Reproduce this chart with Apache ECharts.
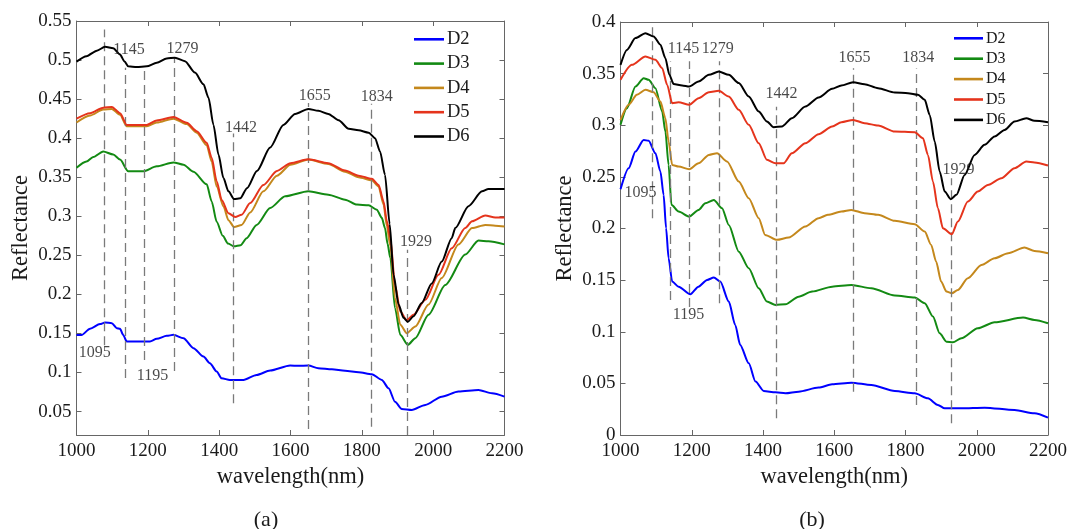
<!DOCTYPE html>
<html>
<head>
<meta charset="utf-8">
<script src="https://cdn.jsdelivr.net/npm/echarts@6/dist/echarts.min.js"></script>
<style>
html,body{margin:0;padding:0;background:#fff;}
#chart{width:1067px;height:529px;}
</style>
</head>
<body>
<div id="chart"></div>
<script>
// ---------- data ----------
const seriesNames = ['D2', 'D3', 'D4', 'D5', 'D6'];
const seriesColors = ['#0000ff', '#138a13', '#c4881c', '#e5341c', '#000000'];
const xTicks = [1000, 1200, 1400, 1600, 1800, 2000, 2200];
const yTicksA = [0.05, 0.1, 0.15, 0.2, 0.25, 0.3, 0.35, 0.4, 0.45, 0.5, 0.55];
const yTicksB = [0, 0.05, 0.1, 0.15, 0.2, 0.25, 0.3, 0.35, 0.4];

// panel (a)
const a_D2 = [[1000,0.148],[1014,0.148],[1038,0.156],[1066,0.162],[1080,0.164],[1099,0.1632],[1113,0.1568],[1122,0.1559],[1131,0.148],[1141,0.1397],[1169,0.1397],[1206,0.1397],[1225,0.1431],[1253,0.1469],[1272,0.1482],[1300,0.1439],[1328,0.1311],[1356,0.1204],[1374,0.1119],[1393,0.1012],[1407,0.0926],[1430,0.0905],[1468,0.0905],[1505,0.0969],[1543,0.1025],[1599,0.1089],[1622,0.1085],[1650,0.1089],[1678,0.1055],[1716,0.1042],[1753,0.1021],[1791,0.1003],[1828,0.0978],[1856,0.0905],[1875,0.0798],[1893,0.0627],[1912,0.0533],[1940,0.052],[1978,0.0585],[2024,0.0691],[2071,0.0756],[2127,0.0777],[2165,0.0734],[2200,0.0691]];
const a_D3 = [[1000,0.362],[1028,0.37],[1047,0.376],[1075,0.383],[1103,0.379],[1122,0.3726],[1145,0.3576],[1187,0.3576],[1225,0.364],[1272,0.369],[1300,0.366],[1328,0.357],[1365,0.341],[1379,0.319],[1393,0.293],[1410,0.275],[1425,0.265],[1442,0.2615],[1460,0.263],[1477,0.272],[1505,0.289],[1543,0.3106],[1585,0.3256],[1650,0.332],[1706,0.3277],[1753,0.3213],[1786,0.315],[1819,0.314],[1842,0.3085],[1856,0.298],[1865,0.285],[1872,0.265],[1880,0.2465],[1893,0.1824],[1908,0.148],[1929,0.1354],[1950,0.144],[1987,0.174],[2034,0.212],[2090,0.251],[2127,0.269],[2155,0.268],[2200,0.264]];
const a_D4 = [[1000,0.42],[1038,0.429],[1075,0.4367],[1099,0.4375],[1122,0.43],[1141,0.4153],[1169,0.4153],[1197,0.4153],[1225,0.42],[1272,0.425],[1309,0.418],[1337,0.407],[1365,0.391],[1379,0.37],[1393,0.338],[1412,0.3127],[1426,0.295],[1442,0.2862],[1463,0.289],[1487,0.305],[1524,0.332],[1562,0.352],[1600,0.366],[1650,0.3726],[1706,0.367],[1753,0.357],[1791,0.35],[1828,0.346],[1847,0.338],[1861,0.315],[1870,0.288],[1880,0.262],[1893,0.195],[1908,0.161],[1926,0.1503],[1950,0.159],[1987,0.187],[2024,0.221],[2071,0.264],[2109,0.285],[2146,0.289],[2174,0.288],[2200,0.287]];
const a_D5 = [[1000,0.425],[1038,0.432],[1075,0.439],[1099,0.44],[1122,0.432],[1141,0.417],[1169,0.417],[1197,0.417],[1225,0.4226],[1272,0.427],[1309,0.4196],[1337,0.409],[1365,0.394],[1379,0.375],[1393,0.345],[1407,0.321],[1426,0.304],[1445,0.299],[1463,0.302],[1487,0.317],[1524,0.34],[1562,0.358],[1600,0.368],[1650,0.373],[1706,0.368],[1753,0.3585],[1791,0.352],[1828,0.348],[1847,0.34],[1861,0.319],[1870,0.294],[1880,0.272],[1893,0.212],[1908,0.178],[1926,0.167],[1945,0.174],[1978,0.193],[2015,0.225],[2052,0.259],[2090,0.285],[2109,0.2935],[2146,0.301],[2174,0.2986],[2200,0.2986]];
const a_D6 = [[1000,0.498],[1028,0.505],[1057,0.512],[1080,0.517],[1103,0.515],[1122,0.507],[1135,0.498],[1145,0.492],[1169,0.491],[1197,0.492],[1225,0.4965],[1253,0.502],[1276,0.503],[1304,0.4986],[1332,0.484],[1356,0.469],[1370,0.452],[1384,0.417],[1398,0.379],[1412,0.349],[1426,0.332],[1442,0.322],[1459,0.323],[1478,0.336],[1506,0.358],[1543,0.388],[1580,0.417],[1613,0.431],[1650,0.4375],[1678,0.435],[1706,0.431],[1735,0.423],[1763,0.412],[1791,0.41],[1819,0.407],[1837,0.4],[1851,0.383],[1865,0.353],[1878,0.29],[1889,0.225],[1903,0.187],[1917,0.17],[1929,0.165],[1945,0.172],[1968,0.189],[1996,0.214],[2024,0.242],[2052,0.272],[2062,0.285],[2099,0.313],[2137,0.332],[2155,0.335],[2200,0.335]];

// panel (b)
const b_D2 = [[1000,0.238],[1023,0.2584],[1042,0.2745],[1065,0.2858],[1079,0.2849],[1098,0.2729],[1112,0.2552],[1121,0.2326],[1128,0.2003],[1135,0.1712],[1145,0.1486],[1163,0.1437],[1196,0.1363],[1219,0.1437],[1243,0.1502],[1262,0.1525],[1280,0.1486],[1304,0.1292],[1322,0.1066],[1336,0.0872],[1360,0.0694],[1379,0.0517],[1402,0.0426],[1435,0.0413],[1463,0.0404],[1500,0.042],[1556,0.0459],[1594,0.0491],[1648,0.0507],[1704,0.0484],[1770,0.0426],[1826,0.0404],[1863,0.0355],[1891,0.0291],[1910,0.0258],[1957,0.0258],[2022,0.0265],[2106,0.0242],[2162,0.021],[2200,0.0168]];
const b_D3 = [[1000,0.3004],[1018,0.3165],[1042,0.3375],[1065,0.3456],[1079,0.344],[1098,0.3359],[1117,0.3133],[1126,0.2939],[1135,0.2616],[1143,0.2229],[1163,0.2164],[1193,0.2116],[1219,0.218],[1238,0.2245],[1262,0.2277],[1285,0.2196],[1304,0.2035],[1332,0.1776],[1360,0.1615],[1388,0.1421],[1411,0.1292],[1435,0.126],[1463,0.1266],[1500,0.134],[1538,0.1389],[1594,0.1437],[1648,0.1453],[1704,0.1421],[1770,0.135],[1826,0.1331],[1854,0.1276],[1877,0.1147],[1896,0.0985],[1915,0.0904],[1933,0.0898],[1957,0.0937],[2003,0.1034],[2050,0.1092],[2130,0.1137],[2162,0.1114],[2200,0.1082]];
const b_D4 = [[1000,0.305],[1023,0.3198],[1046,0.3295],[1070,0.3343],[1093,0.332],[1112,0.323],[1126,0.3068],[1135,0.2842],[1145,0.2616],[1163,0.26],[1193,0.2574],[1219,0.2632],[1248,0.2713],[1271,0.2729],[1299,0.2649],[1332,0.2455],[1360,0.2293],[1388,0.21],[1406,0.1938],[1439,0.189],[1472,0.1912],[1519,0.2019],[1556,0.21],[1582,0.2132],[1620,0.2164],[1648,0.218],[1685,0.2148],[1723,0.2132],[1770,0.2074],[1826,0.2042],[1854,0.197],[1872,0.1841],[1886,0.168],[1900,0.1486],[1915,0.1389],[1930,0.1373],[1947,0.1405],[1975,0.1518],[2013,0.1647],[2050,0.1712],[2088,0.176],[2134,0.1815],[2162,0.1783],[2200,0.176]];
const b_D5 = [[1000,0.344],[1032,0.3585],[1070,0.3666],[1098,0.3634],[1117,0.3553],[1131,0.3391],[1145,0.3214],[1163,0.3223],[1193,0.3198],[1219,0.3262],[1248,0.332],[1276,0.3333],[1304,0.3278],[1332,0.3149],[1360,0.3004],[1388,0.2826],[1411,0.2665],[1435,0.2632],[1458,0.2632],[1481,0.2729],[1519,0.2826],[1556,0.2913],[1594,0.2988],[1620,0.303],[1653,0.3052],[1685,0.302],[1723,0.2997],[1770,0.2939],[1826,0.2933],[1849,0.2875],[1863,0.2713],[1877,0.2455],[1891,0.2196],[1905,0.2003],[1930,0.1944],[1947,0.2067],[1975,0.2261],[2003,0.2358],[2031,0.2422],[2069,0.2487],[2106,0.2584],[2139,0.2649],[2162,0.264],[2200,0.261]];
const b_D6 = [[1000,0.3585],[1018,0.373],[1042,0.3844],[1070,0.3892],[1093,0.386],[1112,0.378],[1126,0.365],[1137,0.349],[1149,0.34],[1173,0.3385],[1193,0.3375],[1219,0.3424],[1248,0.3488],[1276,0.352],[1304,0.3488],[1332,0.3408],[1360,0.3278],[1388,0.3133],[1411,0.3036],[1430,0.2981],[1453,0.2988],[1481,0.3068],[1519,0.3181],[1556,0.3269],[1594,0.3353],[1620,0.3385],[1653,0.3417],[1685,0.3398],[1723,0.3359],[1770,0.3317],[1807,0.3311],[1835,0.3295],[1854,0.3246],[1868,0.31],[1882,0.2842],[1896,0.2552],[1910,0.2358],[1927,0.2284],[1943,0.2326],[1966,0.2519],[1994,0.2713],[2022,0.281],[2050,0.2891],[2078,0.2955],[2106,0.3036],[2139,0.3068],[2162,0.3043],[2200,0.303]];

// dashed reference lines: x position, lower end, upper end
const a_lineX = [1078, 1138, 1191, 1274, 1440, 1650, 1825, 1926];
const a_lineLow = [0.135, 0.093, 0.116, 0.102, 0.0606, 0.0277, 0.0307, 0.02];
const a_lineHigh = [0.539, 0.49, 0.49, 0.503, 0.406, 0.445, 0.444, 0.257];
const b_lineX = [1088, 1140, 1193, 1276, 1437, 1652, 1830, 1928];
const b_lineLow = [0.21, 0.1308, 0.124, 0.1276, 0.0162, 0.042, 0.029, 0.0113];
const b_lineHigh = [0.3956, 0.3617, 0.362, 0.362, 0.318, 0.3553, 0.355, 0.2487];

// annotation texts and anchor positions
const a_annText = ['1145', '1279', '1442', '1655', '1834', '1929', '1095', '1195'];
const a_annX = [1147, 1297, 1461, 1668, 1842, 1952, 1051, 1213];
const a_annY = [0.5127, 0.5145, 0.4132, 0.4546, 0.4533, 0.2678, 0.1247, 0.096];
const b_annText = ['1095', '1145', '1279', '1442', '1655', '1834', '1929', '1195'];
const b_annX = [1056, 1177, 1273, 1452, 1657, 1836, 1949, 1191];
const b_annY = [0.2342, 0.374, 0.374, 0.3304, 0.365, 0.365, 0.2568, 0.1163];

// ---------- chart ----------
const FONT = 'Liberation Serif';
const AXC = '#666666';
const TXT = '#1a1a1a';

const panels = [
  {grid: {left: 76.5, top: 21, width: 428, height: 414}, ymin: 0.02, ymax: 0.55, yTicks: yTicksA,
   data: [a_D2, a_D3, a_D4, a_D5, a_D6], lx: a_lineX, ll: a_lineLow, lh: a_lineHigh,
   at: a_annText, ax: a_annX, ay: a_annY, legend: {left: 414, top: 29.3, font: 18.5, lh: 20, gap: 4.3, w: 30},
   caption: {x: 266, y: 520, text: '(a)'}},
  {grid: {left: 620.5, top: 22, width: 427.5, height: 413}, ymin: 0, ymax: 0.4, yTicks: yTicksB,
   data: [b_D2, b_D3, b_D4, b_D5, b_D6], lx: b_lineX, ll: b_lineLow, lh: b_lineHigh,
   at: b_annText, ax: b_annX, ay: b_annY, legend: {left: 954, top: 29.8, font: 16, lh: 17, gap: 3.4, w: 29},
   caption: {x: 812, y: 520, text: '(b)'}}
];

const option = {
  animation: false,
  backgroundColor: '#ffffff',
  grid: [], xAxis: [], yAxis: [], series: [], legend: [], graphic: []
};

panels.forEach((p, pi) => {
  option.grid.push(Object.assign({containLabel: false, outerBoundsMode: 'none'}, p.grid));
  const common = {
    type: 'value', gridIndex: pi, min: 1000, max: 2200, interval: 200,
    axisLine: {show: true, onZero: false, lineStyle: {color: AXC, width: 1}},
    axisTick: {show: true, inside: true, length: 5, lineStyle: {color: AXC}},
    splitLine: {show: false}
  };
  option.xAxis.push(Object.assign({}, common, {
    position: 'bottom',
    name: 'wavelength(nm)', nameLocation: 'middle', nameGap: 23,
    nameTextStyle: {fontFamily: FONT, fontSize: 22.5, color: TXT},
    axisLabel: {show: true, margin: 7, fontFamily: FONT, fontSize: 19, color: TXT,
      customValues: xTicks, formatter: v => String(v), hideOverlap: false}
  }));
  option.xAxis.push(Object.assign({}, common, {
    position: 'top', axisLabel: {show: false}
  }));
  const ycommon = {
    type: 'value', gridIndex: pi, min: p.ymin, max: p.ymax,
    axisLine: {show: true, onZero: false, lineStyle: {color: AXC, width: 1}},
    axisTick: {show: true, inside: true, length: 5, lineStyle: {color: AXC}, customValues: p.yTicks},
    splitLine: {show: false}
  };
  option.yAxis.push(Object.assign({}, ycommon, {
    position: 'left',
    name: 'Reflectance', nameLocation: 'middle', nameGap: 44, nameRotate: 90,
    nameTextStyle: {fontFamily: FONT, fontSize: 22.5, color: TXT},
    axisLabel: {show: true, margin: 5, fontFamily: FONT, fontSize: 19, color: TXT,
      customValues: p.yTicks, formatter: v => String(+v.toFixed(2))}
  }));
  option.yAxis.push(Object.assign({}, ycommon, {
    position: 'right', axisLabel: {show: false}
  }));

  const xi = pi * 2, yi = pi * 2;

  // dashed reference lines
  option.series.push({
    type: 'line', xAxisIndex: xi, yAxisIndex: yi, data: [], silent: true, z: 1,
    markLine: {
      silent: true, symbol: ['none', 'none'], animation: false,
      label: {show: false},
      lineStyle: {color: '#7a7a7a', width: 1.3, type: [9, 5]},
      data: p.lx.map((x, k) => [{coord: [x, p.ll[k]]}, {coord: [x, p.lh[k]]}])
    }
  });

  // spectra
  seriesNames.forEach((nm, si) => {
    option.series.push({
      type: 'line', name: nm, xAxisIndex: xi, yAxisIndex: yi,
      data: p.data[si], symbol: 'none', showSymbol: false,
      smooth: 0.25, smoothMonotone: 'x',
      lineStyle: {color: seriesColors[si], width: 2},
      itemStyle: {color: seriesColors[si]},
      z: 2 + si
    });
  });

  // annotation numbers
  option.series.push({
    type: 'scatter', xAxisIndex: xi, yAxisIndex: yi, silent: true, z: 10,
    symbolSize: 1, itemStyle: {color: 'rgba(0,0,0,0)'},
    data: p.at.map((t, k) => [p.ax[k], p.ay[k], t]),
    label: {show: true, position: 'inside', formatter: q => q.value[2],
      fontFamily: FONT, fontSize: 16, color: TXT}
  });

  option.legend.push({
    data: seriesNames, orient: 'vertical', left: p.legend.left, top: p.legend.top,
    icon: 'rect', itemWidth: p.legend.w, itemHeight: 2.6, itemGap: p.legend.gap,
    padding: 0, selectedMode: false,
    textStyle: {fontFamily: FONT, fontSize: p.legend.font, color: TXT, lineHeight: p.legend.lh, padding: [0, 0, 0, -2]}
  });

  option.graphic.push({
    type: 'text', x: p.caption.x, y: p.caption.y, silent: true,
    style: {text: p.caption.text, fontFamily: FONT, fontSize: 22, fill: TXT, textAlign: 'center', textVerticalAlign: 'middle'}
  });
});

const chart = echarts.init(document.getElementById('chart'), null, {renderer: 'canvas'});
chart.setOption(option);
</script>
</body>
</html>
